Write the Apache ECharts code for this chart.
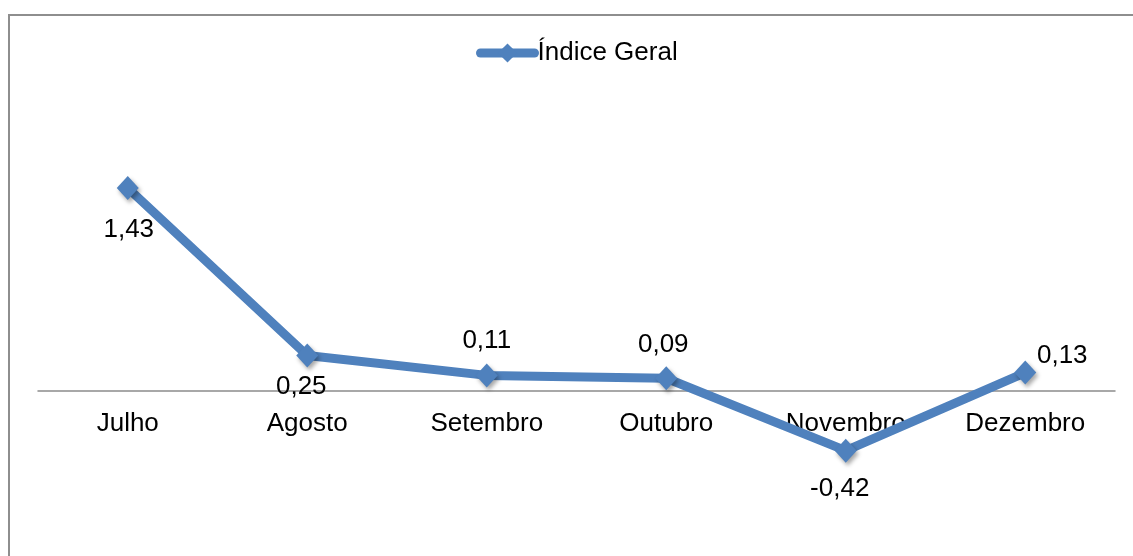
<!DOCTYPE html>
<html>
<head>
<meta charset="utf-8">
<script src="https://cdn.jsdelivr.net/npm/echarts@6/dist/echarts.min.js"></script>
<style>
html,body{margin:0;padding:0;background:#fff;}
#chart{width:1133px;height:556px;}
</style>
</head>
<body>
<div id="chart"></div>
<script>
const categories = ['Julho', 'Agosto', 'Setembro', 'Outubro', 'Novembro', 'Dezembro'];
const seriesName = 'Índice Geral';
const values = [1.43, 0.25, 0.11, 0.09, -0.42, 0.13];
const labelOffsets = [[1, 42], [-6, 31], [0, -35], [-3, -33], [-6, 38], [37, -17]];

const FONT = '"Liberation Sans", Arial, sans-serif';
const BLUE = '#4F81BD';

const chart = echarts.init(document.getElementById('chart'));
chart.setOption({
  animation: false,
  backgroundColor: '#fff',
  textStyle: { fontFamily: FONT },
  graphic: [{
    type: 'rect',
    shape: { x: 9, y: 15, width: 1200, height: 600 },
    style: { fill: 'none', stroke: '#8e8e8e', lineWidth: 2 },
    silent: true
  }],
  legend: {
    left: 476,
    top: 40,
    padding: 0,
    itemWidth: 54,
    itemHeight: 24,
    itemGap: 0,
    lineStyle: { width: 9, cap: 'round' },
    textStyle: { fontSize: 26, color: '#000', fontFamily: FONT, padding: [0, 0, 0, -2] },
    data: [seriesName]
  },
  grid: { left: 38, width: 1077, top: 107, height: 426, outerBoundsMode: 'none', containLabel: false },
  xAxis: {
    type: 'category',
    data: categories,
    boundaryGap: true,
    position: 'bottom',
    offset: -142,
    axisLine: { onZero: false, lineStyle: { color: '#8c8c8c', width: 1.5 } },
    axisTick: { show: false },
    axisLabel: { fontSize: 26, color: '#000', margin: 20, fontFamily: FONT, interval: 0 },
    splitLine: { show: false }
  },
  yAxis: {
    type: 'value',
    min: -1,
    max: 2,
    show: false
  },
  series: [{
    name: seriesName,
    type: 'line',
    data: values.map((v, i) => ({
      value: v,
      label: { offset: labelOffsets[i] }
    })),
    symbol: 'diamond',
    symbolSize: [22, 24],
    lineStyle: { color: BLUE, width: 9 },
    itemStyle: {
      color: BLUE,
      shadowColor: 'rgba(0,0,0,0.35)',
      shadowBlur: 4,
      shadowOffsetX: 2,
      shadowOffsetY: 3
    },
    label: {
      show: true,
      position: 'inside',
      fontSize: 26,
      color: '#000',
      fontFamily: FONT,
      formatter: p => String(p.value).replace('.', ',')
    },
    z: 3
  }]
});
</script>
</body>
</html>
